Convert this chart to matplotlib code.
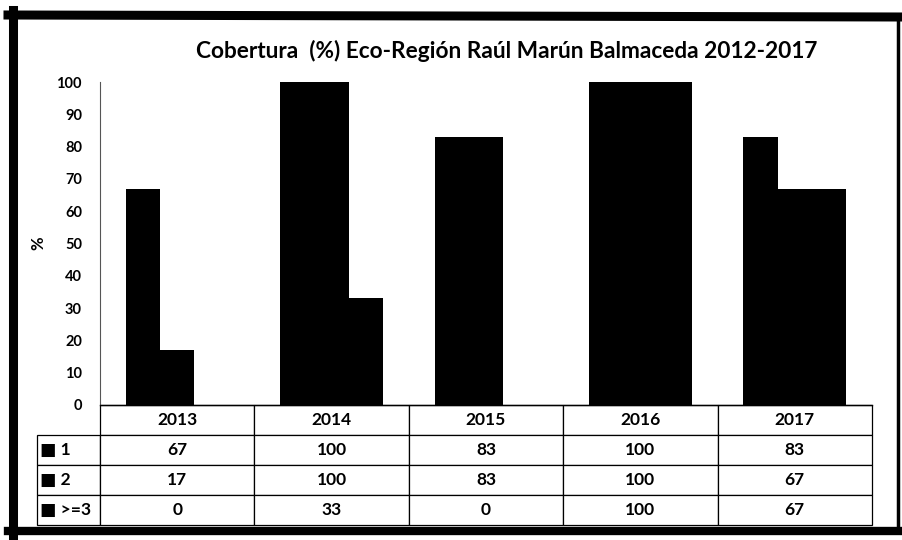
import matplotlib
matplotlib.use("Agg")
import matplotlib.pyplot as plt
from matplotlib.lines import Line2D
import numpy as np

# data
years = ["2013", "2014", "2015", "2016", "2017"]
series_names = ["1", "2", ">=3"]
s1 = [67, 100, 83, 100, 83]
s2 = [17, 100, 83, 100, 67]
s3 = [0, 33, 0, 100, 67]
yticks = [0, 10, 20, 30, 40, 50, 60, 70, 80, 90, 100]

plt.rcParams["font.family"] = ["Lato", "DejaVu Sans"]
plt.rcParams["font.weight"] = "bold"

W, H = 902, 540
fig = plt.figure(figsize=(W / 100, H / 100), dpi=100)
ax = fig.add_axes([100 / W, 1 - 405 / H, 772 / W, 323 / H])

x = np.arange(len(years))
bw = 0.222
for k, vals in enumerate([s1, s2, s3]):
    ax.bar(x + (k - 1) * bw, vals, width=bw, color="black", linewidth=0)

ax.set_xlim(-0.5, len(years) - 0.5)
ax.set_ylim(0, 100)
ax.set_yticks(yticks)
ax.set_yticklabels([str(t) for t in yticks], fontsize=10.5, fontweight="bold")
ax.tick_params(axis="y", length=0, pad=13)
ax.set_xticks([])
for s in ("top", "right"):
    ax.spines[s].set_visible(False)
ax.spines["left"].set_color("#555555")
ax.spines["left"].set_linewidth(0.8)
ax.spines["bottom"].set_linewidth(1.0)
ax.set_ylabel("%", fontsize=12, fontweight="bold", labelpad=7)

ax.set_title("Cobertura  (%) Eco-Región Raúl Marún Balmaceda 2012-2017",
             fontsize=16.3, fontweight="bold", x=0.527, y=1.075, pad=0)

# data table under the plot (bbox covers the data cells only)
cell_text = [[str(v) for v in row] for row in (s1, s2, s3)]
tab = ax.table(cellText=cell_text, colLabels=years, cellLoc="center",
               bbox=[0, -120 / 323, 1, 120 / 323])
tab.auto_set_font_size(False)
ncols = len(years)
cell_h = tab[1, 0].get_height()
for r, name in enumerate(series_names, start=1):
    tab.add_cell(r, -1, width=(63 / 772) * ncols * tab[1, 0].get_width(),
                 height=cell_h, text="\u25a0 " + name, loc="left")
for (r, c), cell in tab.get_celld().items():
    cell.set_edgecolor("black")
    cell.set_linewidth(0.9)
    cell.get_text().set_fontsize(12.5)
    cell.get_text().set_fontweight("bold")
    if c == -1:
        cell.PAD = 0.04

# scanned outer frame
fig.add_artist(Line2D([12.5 / W, 12.5 / W], [1 - 10 / H, 1 - 535 / H], color="black", lw=6.5))
fig.add_artist(Line2D([8 / W, 1], [1 - 15 / H, 1 - 17 / H], color="black", lw=6.5))
fig.add_artist(Line2D([8 / W, 1], [1 - 531 / H, 1 - 531 / H], color="black", lw=6))
fig.add_artist(Line2D([898 / W, 898 / W], [1 - 15 / H, 1 - 531 / H], color="black", lw=2.5))

fig.savefig("out.png", dpi=100)
